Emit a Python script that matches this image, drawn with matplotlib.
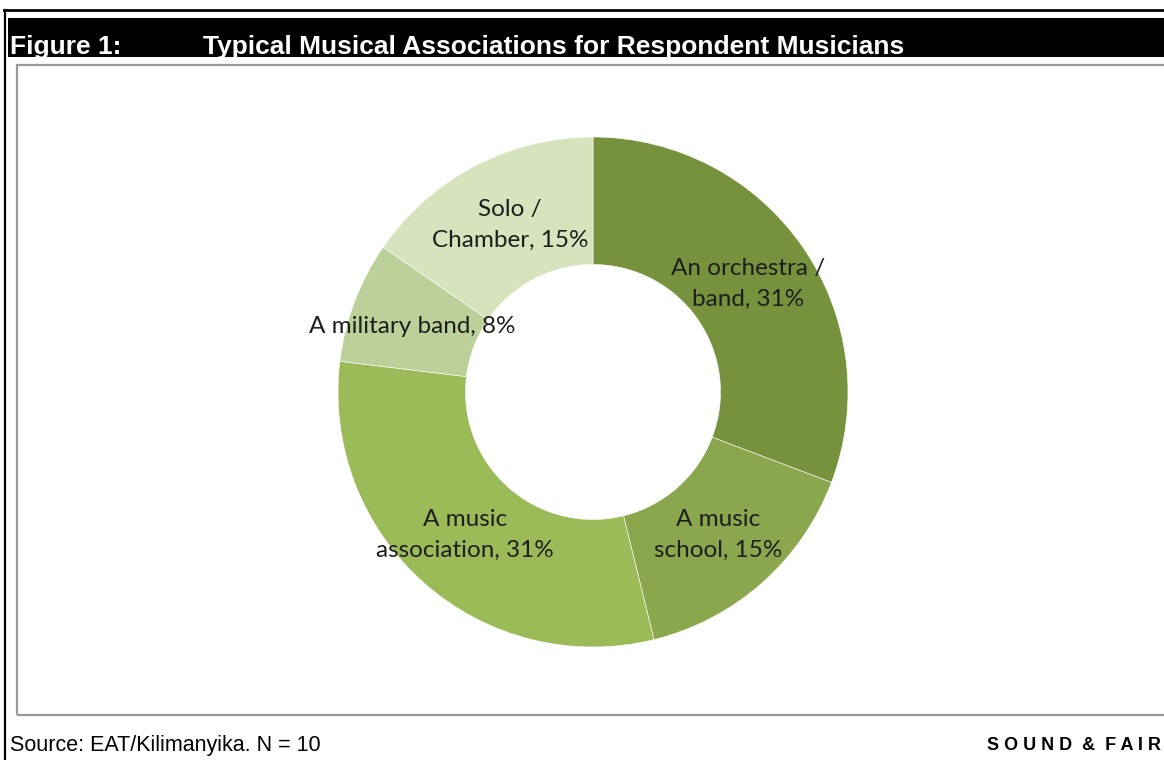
import matplotlib
matplotlib.use("Agg")
import matplotlib.pyplot as plt
from matplotlib.patches import Rectangle
from matplotlib.lines import Line2D

# ---- data ----
categories = ["An orchestra /\nband", "A music\nschool", "A music\nassociation",
              "A military band", "Solo /\nChamber"]
counts = [4, 2, 4, 1, 2]
pct_labels = ["31%", "15%", "31%", "8%", "15%"]
colors = ["#76923C", "#8AA74E", "#9BBB59", "#BCD199", "#D6E3BC"]
# label anchor positions (in pie radius units, relative to centre)
label_pos = [(0.608, 0.424), (0.49, -0.561), (-0.502, -0.561),
             (-0.71, 0.255), (-0.325, 0.655)]

title_left = "Figure 1:"
title_right = "Typical Musical Associations for Respondent Musicians"
source = "Source: EAT/Kilimanyika. N = 10"
brand = "S O U N D  &  F A I R"

W, H = 1164, 760
fig = plt.figure(figsize=(W / 100, H / 100), dpi=100)

def fx(x):
    return x / W

def fy(y):
    return 1 - y / H

# outer black frame (top and left)
fig.add_artist(Line2D([fx(4), fx(W)], [fy(10), fy(10)], color="black", lw=2))
fig.add_artist(Line2D([fx(4.5), fx(4.5)], [fy(10), fy(H)], color="black", lw=1.6))

# black header bar
fig.add_artist(Rectangle((fx(8), fy(57)), fx(W) - fx(8), fy(18) - fy(57),
                         transform=fig.transFigure, facecolor="black", edgecolor="none"))
fig.text(fx(10), fy(54), title_left, color="white", fontsize=19, fontweight="bold",
         family="Liberation Sans", va="baseline", ha="left")
fig.text(fx(203), fy(54), title_right, color="white", fontsize=19, fontweight="bold",
         family="Liberation Sans", va="baseline", ha="left")

# inner gray chart box
fig.add_artist(Rectangle((fx(17), fy(715)), fx(W + 5) - fx(17), fy(65) - fy(715),
                         transform=fig.transFigure, facecolor="none",
                         edgecolor="#9a9a9a", lw=1.6))

# footer texts
fig.text(fx(10), fy(751), source, fontsize=15.5, family="Liberation Sans",
         va="baseline", ha="left", color="black")
fig.text(fx(987), fy(750), brand, fontsize=13, fontweight="bold",
         family="Liberation Sans", va="baseline", ha="left", color="black")

# donut
cx, cy, R = 593, 392, 255
ax = fig.add_axes([fx(cx - R), fy(cy + R), (2 * R) / W, (2 * R) / H])
ax.pie(counts, colors=colors, startangle=90, counterclock=False, radius=1,
       wedgeprops=dict(width=0.5, edgecolor="white", linewidth=0.4))
ax.set_xlim(-1, 1)
ax.set_ylim(-1, 1)
ax.set_aspect("equal")
ax.axis("off")

for cat, pct, (lx, ly) in zip(categories, pct_labels, label_pos):
    ax.text(lx, ly, f"{cat}, {pct}", ha="center", va="center", fontsize=17.5,
            family="Lato", color="#1e1e1e", linespacing=1.6)

fig.savefig("out.png", dpi=100)
